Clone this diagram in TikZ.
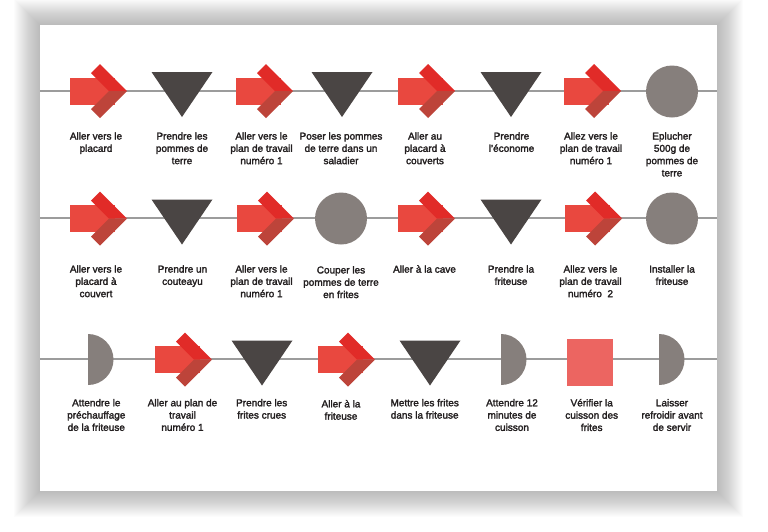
\documentclass[tikz,border=0pt]{standalone}
\usepackage{fontspec}
\setmainfont{Liberation Sans}
\newfontfamily\lblfont{Liberation Sans}[FakeBold=2.2]
\definecolor{cRect}{HTML}{E9483F}
\definecolor{cUp}{HTML}{E12B28}
\definecolor{cDown}{HTML}{BD443A}
\definecolor{cDark}{HTML}{4A4544}
\definecolor{cGray}{HTML}{867F7C}
\definecolor{cSquare}{HTML}{EC6561}
\definecolor{cLine}{HTML}{9C9C9C}
\definecolor{cText}{HTML}{231F20}
\tikzset{
  lbl/.style={anchor=north, align=center, inner sep=0pt, text=cText,
    font=\lblfont\fontsize{10}{12.3}\selectfont},
  rowline/.style={draw=cLine, line width=1.5pt},
  moveshape/.pic={
    \fill[cRect] (0,-13.5) rectangle (45,13.5);
    \fill[cUp] (21,-18) -- (30,-27) -- (57,0) -- (39,0) -- cycle;
    \fill[cDown] (21,18) -- (30,27) -- (57,0) -- (39,0) -- cycle;
  },
  takeshape/.pic={\fill[cDark] (-30.5,-19) -- (30.5,-19) -- (0,26) -- cycle;},
  opshape/.pic={\fill[cGray] (0,0) circle[radius=26];},
  waitshape/.pic={
    \begin{scope}
      \clip (0,-30) rectangle (30,30);
      \fill[cGray] (0,0) circle[radius=25.5];
    \end{scope}
  },
  checkshape/.pic={\fill[cSquare] (-23,-23.5) rectangle (23,23.5);},
}
\begin{document}
\begin{tikzpicture}[x=1pt,y=-1pt]
\useasboundingbox (0,0) rectangle (768,531);
% shadow
\foreach \i in {1,...,26}{
  \fill[black,opacity=0.010] (40-\i,25-\i) rectangle (717+\i,491+\i);
}
\node[fill=white, draw=none, inner sep=0pt, minimum width=677pt, minimum height=466pt, anchor=north west] (card) at (40,25) {};

% row lines
\coordinate (r1l) at (40,91);   \coordinate (r1r) at (717,91);
\coordinate (r2l) at (40,218);  \coordinate (r2r) at (717,218);
\coordinate (r3l) at (40,359);  \coordinate (r3r) at (717,359);
\draw[rowline] (r1l) -- (r1r);
\draw[rowline] (r2l) -- (r2r);
\draw[rowline] (r3l) -- (r3r);

% row 1 shapes
\pic at (70,91) {moveshape};
\pic at (182,91) {takeshape};
\pic at (236,91) {moveshape};
\pic at (342,91) {takeshape};
\pic at (398,91) {moveshape};
\pic at (511,91) {takeshape};
\pic at (564,91) {moveshape};
\pic at (672,91.5) {opshape};

% row 2 shapes
\pic at (70,218.5) {moveshape};
\pic at (182,218.5) {takeshape};
\pic at (237,218.5) {moveshape};
\pic at (341,218.5) {opshape};
\pic at (398,218.5) {moveshape};
\pic at (511,218.5) {takeshape};
\pic at (565,218.5) {moveshape};
\pic at (672,218.5) {opshape};

% row 3 shapes
\pic at (88,359.5) {waitshape};
\pic at (155,359.5) {moveshape};
\pic at (262,359.5) {takeshape};
\pic at (318,359.5) {moveshape};
\pic at (430,359.5) {takeshape};
\pic at (501,359.5) {waitshape};
\pic at (590,362.5) {checkshape};
\pic at (659,359.5) {waitshape};

% row 1 labels
\node[lbl] (l11) at (96,132.1) {Aller vers le\\placard};
\node[lbl] (l12) at (182,132.1) {Prendre les\\pommes de\\terre};
\node[lbl] (l13) at (261.5,132.1) {Aller vers le\\plan de travail\\numéro 1};
\node[lbl] (l14) at (341,132.1) {Poser les pommes\\de terre dans un\\saladier};
\node[lbl] (l15) at (425,132.1) {Aller au\\placard à\\couverts};
\node[lbl] (l16) at (511.5,132.1) {Prendre\\l’économe};
\node[lbl] (l17) at (591,132.1) {Allez vers le\\plan de travail\\numéro 1};
\node[lbl] (l18) at (672,132.1) {Eplucher\\500g de\\pommes de\\terre};

% row 2 labels
\node[lbl] (l21) at (96,265.1) {Aller vers le\\placard à\\couvert};
\node[lbl] (l22) at (182.5,265.1) {Prendre un\\couteayu};
\node[lbl] (l23) at (261.5,265.1) {Aller vers le\\plan de travail\\numéro 1};
\node[lbl] (l24) at (341,266) {Couper les\\pommes de terre\\en frites};
\node[lbl] (l25) at (424.5,265.1) {Aller à la cave};
\node[lbl] (l26) at (511,265.1) {Prendre la\\friteuse};
\node[lbl] (l27) at (590.5,265.1) {Allez vers le\\plan de travail\\numéro~ 2};
\node[lbl] (l28) at (672,265.1) {Installer la\\friteuse};

% row 3 labels
\node[lbl] (l31) at (96.3,398.8) {Attendre le\\préchauffage\\de la friteuse};
\node[lbl] (l32) at (182.5,398.8) {Aller au plan de\\travail\\numéro 1};
\node[lbl] (l33) at (261.7,398.8) {Prendre les\\frites crues};
\node[lbl] (l34) at (341,399.8) {Aller à la\\friteuse};
\node[lbl] (l35) at (424.7,398.8) {Mettre les frites\\dans la friteuse};
\node[lbl] (l36) at (512,398.8) {Attendre 12\\minutes de\\cuisson};
\node[lbl] (l37) at (591.7,398.8) {Vérifier la\\cuisson des\\frites};
\node[lbl] (l38) at (672,398.8) {Laisser\\refroidir avant\\de servir};
\end{tikzpicture}
\end{document}
